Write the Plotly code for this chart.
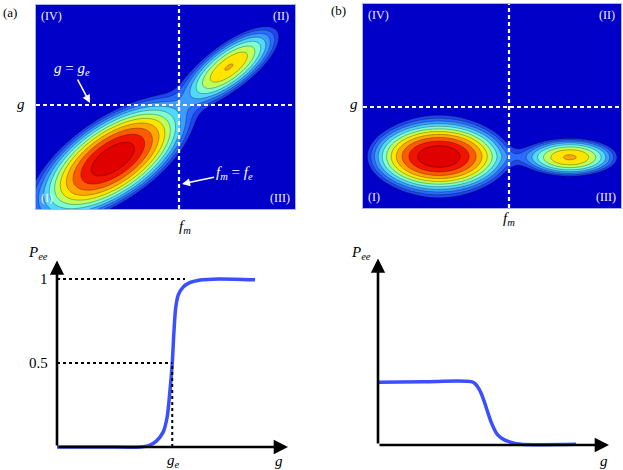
import numpy as np
import plotly.graph_objects as go

# ---- top panels: two-peak densities (plot units ~ pixels of each panel) ----
# components: main peak I, its broad foot, peak II/III, and a faint foot/bridge
# panel (a)
a_w, a_h = 259, 204
a_cx = [77, 70, 193, 193]
a_cy = [50, 45, 142, 142]
a_amp = [1.0, 0.06, 0.225, 0.02]
a_smaj = [30, 55, 24, 40]
a_smin = [14, 18, 9, 15]
a_ang = [34, 36, 37, 37]
a_top, a_step = -0.27, 0.384      # highest contour level and spacing (log scale)
a_fe, a_ge = 143, 104             # dashed lines f_m = f_e, g = g_e

# panel (b)
b_w, b_h = 258, 204
b_cx = [76, 76, 207, 150]
b_cy = [51.5, 51.5, 50.7, 51]
b_amp = [1.0, 0.1, 0.375, 0.012]
b_smaj = [28, 36, 23.6, 25]
b_smin = [14, 30, 9.5, 6]
b_ang = [0, 0, 0, 0]
b_top, b_step = -0.18, 0.278
b_fe, b_ge = 146, 101

n_levels = 11
band_colors = ["#0000c8", "#1e46f0", "#2a6cff", "#3c9cff", "#50d8ff", "#7dffd0",
               "#c0ff5a", "#ffe600", "#ffa800", "#ff5a00", "#f01400", "#e00000"]

quad_names = ["(IV)", "(II)", "(I)", "(III)"]

# ---- bottom panels: P_ee against g ----
pa_g = [0, 0.2, 0.36, 0.40, 0.43, 0.46, 0.477, 0.488, 0.499, 0.506, 0.514, 0.525,
        0.545, 0.57, 0.62, 0.70, 0.857]
pa_p = [0, 0, 0, 0.01, 0.035, 0.09, 0.18, 0.32, 0.5, 0.68, 0.83, 0.905,
        0.95, 0.975, 0.994, 1.0, 0.995]
pb_g = [0, 0.2, 0.403, 0.42, 0.431, 0.446, 0.46, 0.475, 0.489, 0.503, 0.518, 0.545,
        0.576, 0.619, 0.70, 0.857]
pb_p = [0.373, 0.377, 0.377, 0.365, 0.347, 0.31, 0.258, 0.195, 0.139, 0.095, 0.06, 0.032,
        0.016, 0.004, 0.002, 0.004]
g_e = 0.499
p_ticks = [1, 0.5]
p_ticktext = ["1", "0.5"]

W, H = 623, 470
FONT = "Liberation Serif, Times New Roman, DejaVu Serif, serif"
CURVE = "#3a50ff"


def px(x):
    return x / W


def py(y):
    return 1 - y / H


def density(w, h, cx, cy, amp, smaj, smin, ang):
    x = np.linspace(0, w, 300)
    y = np.linspace(0, h, 240)
    X, Y = np.meshgrid(x, y)
    S = np.zeros_like(X)
    for x0, y0, A, s1, s2, t in zip(cx, cy, amp, smaj, smin, ang):
        t = np.radians(t)
        dx, dy = X - x0, Y - y0
        u = dx * np.cos(t) + dy * np.sin(t)
        v = -dx * np.sin(t) + dy * np.cos(t)
        S += A * np.exp(-0.5 * ((u / s1) ** 2 + (v / s2) ** 2))
    return x, y, np.log(S + 1e-12)


cscale = [[j / n_levels, c] for j, c in enumerate(band_colors)]

fig = go.Figure()

for k, (w, h, cx, cy, amp, s1, s2, ang, top, step) in enumerate([
        (a_w, a_h, a_cx, a_cy, a_amp, a_smaj, a_smin, a_ang, a_top, a_step),
        (b_w, b_h, b_cx, b_cy, b_amp, b_smaj, b_smin, b_ang, b_top, b_step)]):
    x, y, z = density(w, h, cx, cy, amp, s1, s2, ang)
    sfx = "" if k == 0 else "2"
    fig.add_trace(go.Contour(
        x=x, y=y, z=z, xaxis="x" + sfx, yaxis="y" + sfx,
        colorscale=cscale, showscale=False, hoverinfo="skip",
        contours=dict(start=top - (n_levels - 1) * step, end=top, size=step, coloring="fill"),
        line=dict(color="rgba(0,0,0,0.5)", width=0.6)))

fig.add_trace(go.Scatter(x=pa_g, y=pa_p, xaxis="x3", yaxis="y3", mode="lines",
                         line=dict(color=CURVE, width=3.5, shape="spline", smoothing=0.8),
                         hoverinfo="skip"))
fig.add_trace(go.Scatter(x=pb_g, y=pb_p, xaxis="x4", yaxis="y4", mode="lines",
                         line=dict(color=CURVE, width=3.5, shape="spline", smoothing=0.8),
                         hoverinfo="skip"))

shapes = []
ann = []
dash_w = dict(color="white", width=2.2, dash="4px,3px")
for sfx, w, h, fe, ge in [("", a_w, a_h, a_fe, a_ge), ("2", b_w, b_h, b_fe, b_ge)]:
    shapes.append(dict(type="line", xref="x" + sfx, yref="y" + sfx, x0=fe, x1=fe, y0=0, y1=h, line=dash_w))
    shapes.append(dict(type="line", xref="x" + sfx, yref="y" + sfx, x0=0, x1=w, y0=ge, y1=ge, line=dash_w))
    pos = [(3, h - 2, "left", "top"), (w - 4, h - 2, "right", "top"),
           (3, 2, "left", "bottom"), (w - 3, 2, "right", "bottom")]
    for name, (qx, qy, xa, ya) in zip(quad_names, pos):
        ann.append(dict(text=name, x=qx, y=qy, xref="x" + sfx, yref="y" + sfx, xanchor=xa, yanchor=ya,
                        showarrow=False, font=dict(family=FONT, size=12, color="#f0f0ff")))

# dotted guides for P_ee = 1 and 0.5
dot_k = dict(color="black", width=2, dash="dot")
shapes.append(dict(type="line", xref="x3", yref="y3", x0=0, x1=0.554, y0=1, y1=1, line=dot_k))
shapes.append(dict(type="line", xref="x3", yref="y3", x0=0, x1=g_e, y0=0.5, y1=0.5, line=dot_k))
shapes.append(dict(type="line", xref="x3", yref="y3", x0=g_e, x1=g_e, y0=0, y1=0.5, line=dot_k))

# arrow axes
for sfx in ["3", "4"]:
    for hx, hy in [(1, 0), (0, 1.11)]:
        ann.append(dict(text="", x=hx, y=hy, ax=0, ay=0, xref="x" + sfx, yref="y" + sfx,
                        axref="x" + sfx, ayref="y" + sfx, showarrow=True, arrowhead=2,
                        arrowsize=1.1, arrowwidth=2.6, arrowcolor="black"))

for t, v in zip(p_ticktext, p_ticks):
    ann.append(dict(text=t, x=-0.03, y=v, xref="x3", yref="y3", xanchor="right", yanchor="middle",
                    showarrow=False, font=dict(family=FONT, size=15, color="black")))


def label(text, x, y, size=15, color="black"):
    ann.append(dict(text=text, x=px(x), y=py(y), xref="paper", yref="paper", showarrow=False,
                    xanchor="center", yanchor="middle",
                    font=dict(family=FONT, size=size, color=color)))


gl = "<i>g</i>"
fm = "<i>f</i><sub><i>m</i></sub>"
pee = "<i>P</i><sub><i>ee</i></sub>"
label("(a)", 10, 12, 13)
label("(b)", 338, 10, 13)
label(gl, 21, 104)
label(fm, 185, 227)
label(gl, 354, 104)
label(fm, 509, 219)
label(pee, 38, 253)
label(pee, 361, 253)
label("<i>g</i><sub><i>e</i></sub>", 173, 461)
label(gl, 279, 461)
label(gl, 604, 461)

ann.append(dict(text="<i>g</i> = <i>g</i><sub><i>e</i></sub>", x=54, y=106, xref="x", yref="y",
                ax=-18, ay=-34, showarrow=True, arrowhead=2, arrowsize=1, arrowwidth=1.6,
                arrowcolor="white", font=dict(family=FONT, size=15, color="white")))
ann.append(dict(text="<i>f</i><sub><i>m</i></sub> = <i>f</i><sub><i>e</i></sub>", x=146, y=25,
                xref="x", yref="y", ax=52, ay=-11, showarrow=True, arrowhead=2, arrowsize=1,
                arrowwidth=1.6, arrowcolor="white", font=dict(family=FONT, size=15, color="white")))

top_ax = dict(showgrid=False, zeroline=False, showticklabels=False, ticks="", showline=True,
              mirror=True, linecolor="#aab4e6", linewidth=1)
bot_ax = dict(visible=False)

fig.update_layout(
    width=W, height=H, margin=dict(l=0, r=0, t=0, b=0), showlegend=False,
    paper_bgcolor="white", plot_bgcolor="white",
    xaxis=dict(top_ax, domain=[px(36), px(295)], range=[0, a_w], anchor="y"),
    yaxis=dict(top_ax, domain=[py(209), py(5)], range=[0, a_h], anchor="x"),
    xaxis2=dict(top_ax, domain=[px(363), px(621)], range=[0, b_w], anchor="y2"),
    yaxis2=dict(top_ax, domain=[py(208), py(4)], range=[0, b_h], anchor="x2"),
    xaxis3=dict(bot_ax, domain=[px(47), px(298)], range=[-0.0433, 1.0433], anchor="y3"),
    yaxis3=dict(bot_ax, domain=[py(455), py(250)], range=[-0.0476, 1.1726], anchor="x3"),
    xaxis4=dict(bot_ax, domain=[px(368), px(619)], range=[-0.0433, 1.0433], anchor="y4"),
    yaxis4=dict(bot_ax, domain=[py(453), py(248)], range=[-0.0476, 1.1726], anchor="x4"),
    shapes=shapes, annotations=ann)

# the page body has a default 8px margin; drop it so the figure fills the window
fig.write_html("out.html", config={"displayModeBar": False},
               post_script="document.body.style.margin='0';")
